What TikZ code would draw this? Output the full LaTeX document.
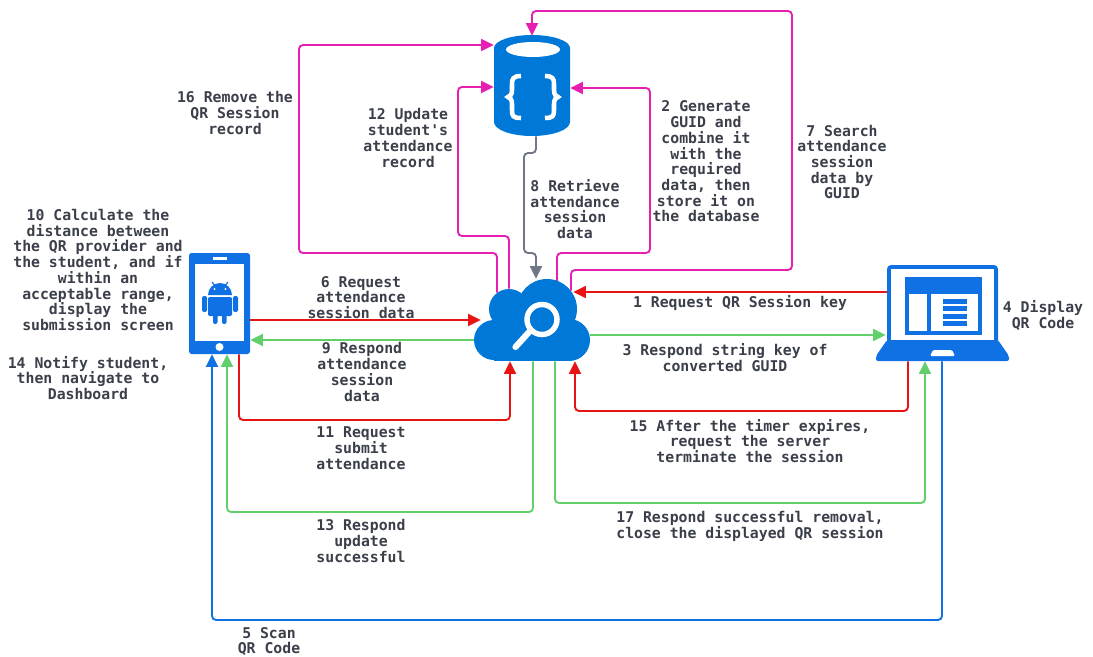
\documentclass[tikz,border=0pt]{standalone}
\usepackage{fontspec}
\newfontfamily\lblfont{DejaVu Sans Mono}
\usetikzlibrary{arrows.meta,calc}
\definecolor{azure}{HTML}{0078D7}
\definecolor{iconblue}{HTML}{1071E5}
\definecolor{cmag}{HTML}{E61FB0}
\definecolor{cred}{HTML}{E81313}
\definecolor{cgreen}{HTML}{62CF6A}
\definecolor{cgray}{HTML}{6F7785}
\definecolor{labelink}{HTML}{3A3F4A}
\tikzset{
  x=0.75pt,y=-0.75pt,
  lbl/.style={font=\lblfont\fontsize{11.1}{11.8}\selectfont\bfseries,text=labelink,align=center,inner sep=0pt},
  conn/.style={line width=1.4pt,rounded corners=3pt,-{Triangle[length=9.5pt,width=9pt]}},
  mag/.style={conn,draw=cmag},
  rd/.style={conn,draw=cred},
  gr/.style={conn,draw=cgreen},
  bl/.style={conn,draw=iconblue},
  gy/.style={conn,draw=cgray},
}
\begin{document}
\begin{tikzpicture}
\useasboundingbox (0,0) rectangle (1093,657);
% invisible node frames for the four icons
\node[inner sep=0pt,minimum width=57pt,minimum height=75pt] (db) at (532,86) {};
\node[inner sep=0pt,minimum width=45.75pt,minimum height=75.75pt] (phone) at (219.5,303.5) {};
\node[inner sep=0pt,minimum width=87pt,minimum height=61.5pt] (cloud) at (532,320) {};
\node[inner sep=0pt,minimum width=99.75pt,minimum height=71.25pt] (laptop) at (942.5,313.5) {};
% database icon
\fill[azure] (494,48) arc[start angle=180,end angle=360,x radius=38,y radius=13] -- (570,122)
  arc[start angle=0,end angle=180,x radius=38,y radius=14] -- cycle;
\fill[white] (533,49.5) ellipse[x radius=27,y radius=7.5];
\begin{scope}[line width=3.4pt]
\draw[white] (521,76) .. controls (513,76) and (512,79) .. (512,84) -- (512,90) .. controls (512,95) and (510,96) .. (508,97)
  .. controls (510,98) and (512,99) .. (512,104) -- (512,110) .. controls (512,116) and (513,118) .. (521,118);
\draw[white] (545,76) .. controls (553,76) and (554,79) .. (554,84) -- (554,90) .. controls (554,95) and (556,96) .. (558,97)
  .. controls (556,98) and (554,99) .. (554,104) -- (554,110) .. controls (554,116) and (553,118) .. (545,118);
\end{scope}
% connectors
\draw[mag] (cloud.north -| 497,0) ++(0,14) -- (497,253) -- (299,253) -- (299,45) -- (db.west |- 0,45);
\draw[mag] (cloud.north -| 509,0) ++(0,10) -- (509,236) -- (458,236) -- (458,87) -- (db.west |- 0,87);
\draw[mag] (cloud.north -| 557,0) ++(0,3) -- (557,253) -- (650,253) -- (650,88) -- (db.east |- 0,88);
\draw[mag] (cloud.north -| 571,0) ++(0,12) -- (571,270) -- (792,270) -- (792,11) -- (532,11) -- (db.north);
\draw[gy] (db.south -| 536,0) -- (536,153) -- (524,153) -- (524,253) -- (536,253) -- (cloud.north -| 536,0);
\draw[rd] (laptop.west |- 0,292) ++(11,0) -- (cloud.east |- 0,292) -- ++(-17,0);
\draw[rd] (phone.east |- 0,320) -- (cloud.west |- 0,320) -- ++(7,0);
\draw[rd] (phone.south -| 239,0) -- (239,420) -- (510,420) -- (cloud.south -| 510,0);
\draw[rd] (laptop.south -| 908,0) -- (908,411) -- (575,411) -- (cloud.south -| 575,0);
\draw[gr] (cloud.east |- 0,335) -- (laptop.west |- 0,335) -- ++(10,0);
\draw[gr] (cloud.west |- 0,340) -- (phone.east |- 0,340);
\draw[gr] (cloud.south -| 533,0) -- (533,512) -- (227,512) -- (phone.south -| 227,0);
\draw[gr] (cloud.south -| 555,0) -- (555,503) -- (925,503) -- (laptop.south -| 925,0);
\draw[bl] (laptop.south -| 942,0) -- (942,620) -- (212,620) -- (phone.south -| 212,0);
% cloud icon
\fill[azure] (494,340) circle[radius=20];
\fill[azure] (509,309) circle[radius=20];
\fill[azure] (547,309) circle[radius=30];
\fill[azure] (569,340) circle[radius=21];
\fill[azure] (494,335) rectangle (569,361);
\fill[azure] (505,320) rectangle (565,345);
\draw[white,line width=4.1pt] (542,319.5) circle[radius=15];
\draw[white,line width=4.6pt,line cap=round] (530,331) -- (515.5,347);
% phone icon
\fill[iconblue,rounded corners=2pt] (189,253) rectangle (250,354);
\fill[white] (195,264) rectangle (244,341);
\fill[white] (213,256.5) rectangle (227,259.5);
\fill[white] (219.5,347) circle[radius=4];
\fill[iconblue] (208,295) arc[start angle=180,end angle=360,radius=12] -- cycle;
\draw[iconblue,line width=0.9pt] (212,282) -- (215,286) (228,282) -- (225,286);
\fill[white] (214.5,289) circle[radius=1.1] (225.5,289) circle[radius=1.1];
\fill[iconblue,rounded corners=1pt] (208,297) rectangle (232,316);
\fill[iconblue,rounded corners=1.5pt] (202,296) rectangle (207,312);
\fill[iconblue,rounded corners=1.5pt] (233,296) rectangle (238,312);
\fill[iconblue,rounded corners=1.5pt] (213,310) rectangle (217.5,324);
\fill[iconblue,rounded corners=1.5pt] (222,310) rectangle (226.5,324);
% laptop icon
\fill[iconblue,rounded corners=3pt] (887,265) rectangle (998,345);
\fill[iconblue,rounded corners=1.5pt] (887,340) -- (998,340) -- (1009,356) -- (1009,361) -- (876,361) -- (876,356) -- cycle;
\fill[white] (891,269) rectangle (994,340);
\fill[white,rounded corners=1pt] (933,350) -- (952,350) -- (955,356) -- (930,356) -- cycle;
\fill[iconblue] (905,277) rectangle (982,335);
\fill[white] (909,294) rectangle (927,331);
\fill[white] (931,294) rectangle (978,331);
\fill[iconblue] (943,299) rectangle (967,304);
\fill[iconblue] (943,306) rectangle (967,311);
\fill[iconblue] (943,313.5) rectangle (967,318.5);
\fill[iconblue] (943,321) rectangle (967,325.5);
% labels
\node[lbl] (t16) at (235,113) {16 Remove the\\QR Session\\record};
\node[lbl] (t12) at (408,138) {12 Update\\student's\\attendance\\record};
\node[lbl] (t2) at (706,161.5) {2 Generate\\GUID and\\combine it\\with the\\required\\data, then\\store it on\\the database};
\node[lbl] (t7) at (842,162) {7 Search\\attendance\\session\\data by\\GUID};
\node[lbl] (t8) at (575,209) {8 Retrieve\\attendance\\session\\data};
\node[lbl] (t10) at (98,270) {10 Calculate the\\distance between\\the QR provider and\\the student, and if\\within an\\acceptable range,\\display the\\submission screen};
\node[lbl] (t14) at (88,378) {14 Notify student,\\then navigate to\\Dashboard};
\node[lbl] (t6) at (361,297.5) {6 Request\\attendance\\session data};
\node[lbl] (t9) at (362,372) {9 Respond\\attendance\\session\\data};
\node[lbl] (t11) at (361,448) {11 Request\\submit\\attendance};
\node[lbl] (t13) at (361,541) {13 Respond\\update\\successful};
\node[lbl] (t1) at (740,303.5) {1 Request QR Session key};
\node[lbl] (t3) at (725,357.5) {3 Respond string key of\\converted GUID};
\node[lbl] (t15) at (750,441) {15 After the timer expires,\\request the server\\terminate the session};
\node[lbl] (t17) at (750,526.5) {17 Respond successful removal,\\close the displayed QR session};
\node[lbl] (t4) at (1043,315.5) {4 Display\\QR Code};
\node[lbl] (t5) at (269,641.5) {5 Scan\\QR Code};
\end{tikzpicture}
\end{document}
